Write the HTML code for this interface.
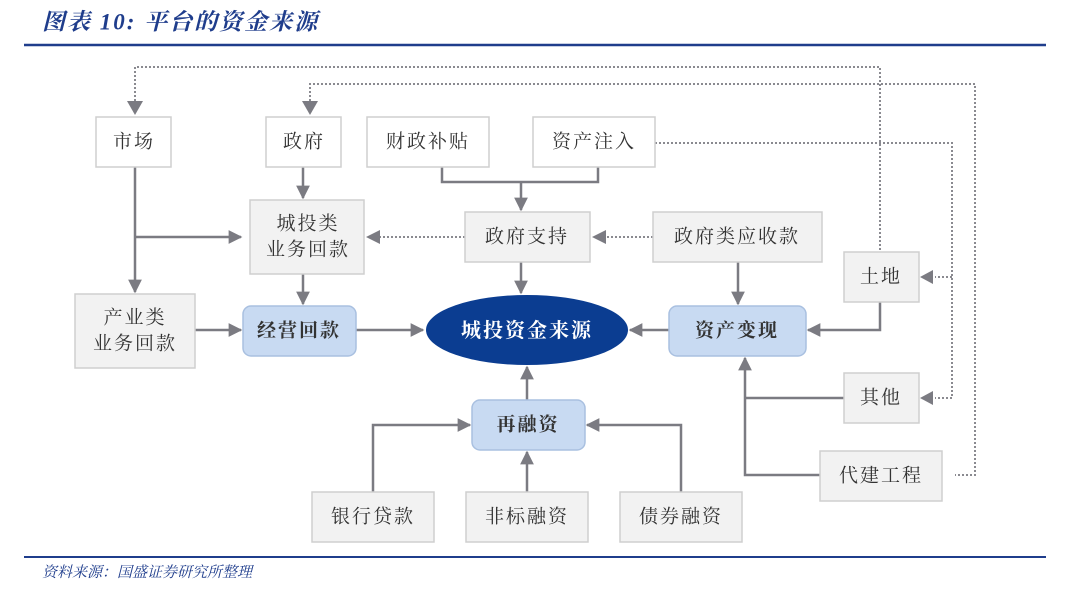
<!DOCTYPE html>
<html><head><meta charset="utf-8"><style>
body{margin:0;background:#fff;}
svg text{font-family:"Liberation Serif","Noto Serif CJK SC",serif;fill:#333;font-size:19px;text-anchor:middle;dominant-baseline:central;letter-spacing:2px}
</style></head><body>
<svg width="1080" height="596" viewBox="0 0 1080 596" xmlns="http://www.w3.org/2000/svg">
<defs>
<marker id="a" viewBox="0 0 10 10" refX="9" refY="5" markerWidth="5.5" markerHeight="5.5" orient="auto" markerUnits="strokeWidth"><path d="M0,0L10,5L0,10z" fill="#7b7b82"/></marker>
</defs>
<text x="42" y="22" style="font-size:23px;font-style:italic;font-weight:bold;fill:#1f3d8c;text-anchor:start;letter-spacing:2px">图表 10:  平台的资金来源</text>
<line x1="24" y1="45" x2="1046" y2="45" stroke="#1f3d8c" stroke-width="2.5"/>
<line x1="24" y1="557" x2="1046" y2="557" stroke="#1f3d8c" stroke-width="2"/>
<text x="42" y="573" style="font-size:15px;font-style:italic;fill:#1f3d8c;text-anchor:start;letter-spacing:0">资料来源：国盛证券研究所整理</text>

<g fill="none" stroke="#8a8a90" stroke-width="2" stroke-dasharray="2,2">
<path d="M135,101V67H880V252"/>
<path d="M310,101V84H975V475H955"/>
<path d="M655,143H952V398H935"/>
<path d="M952,277H935"/>
<path d="M465,237H380"/>
<path d="M653,237H606"/>
</g>
<g fill="none" stroke="#7b7b82" stroke-width="2.5" marker-end="url(#a)">
<path d="M135,167V292"/>
<path d="M135,237H241"/>
<path d="M303,167V198"/>
<path d="M303,274V304"/>
<path d="M442,167V182H598V167M521,182V210"/>
<path d="M521,262V293"/>
<path d="M738,262V304"/>
<path d="M880,302V330H808"/>
<path d="M669,330H630"/>
<path d="M356,330H423"/>
<path d="M195,330H241"/>
<path d="M527,400V367"/>
<path d="M527,492V452"/>
<path d="M373,492V425H470"/>
<path d="M681,492V425H587"/>
<path d="M820,475H745V358"/>
</g>
<path d="M844,398H745" fill="none" stroke="#7b7b82" stroke-width="2.5"/>
<g stroke="#cfcfcf" stroke-width="1.5">
<rect x="96" y="117" width="75" height="50" fill="#fff"/>
<rect x="266" y="117" width="75" height="50" fill="#fff"/>
<rect x="367" y="117" width="122" height="50" fill="#fff"/>
<rect x="533" y="117" width="122" height="50" fill="#fff"/>
<rect x="250" y="200" width="114" height="74" fill="#f2f2f2"/>
<rect x="465" y="212" width="125" height="50" fill="#f2f2f2"/>
<rect x="653" y="212" width="169" height="50" fill="#f2f2f2"/>
<rect x="844" y="252" width="75" height="50" fill="#f2f2f2"/>
<rect x="844" y="373" width="75" height="50" fill="#f2f2f2"/>
<rect x="820" y="451" width="122" height="50" fill="#f2f2f2"/>
<rect x="75" y="294" width="120" height="74" fill="#f2f2f2"/>
<rect x="312" y="492" width="122" height="50" fill="#f2f2f2"/>
<rect x="466" y="492" width="122" height="50" fill="#f2f2f2"/>
<rect x="620" y="492" width="122" height="50" fill="#f2f2f2"/>
</g>
<g fill="#7b7b82">
<path d="M127,101h16l-8,14z"/><path d="M302,101h16l-8,14z"/>
<path d="M933,270v14l-13,-7z"/><path d="M933,391v14l-13,-7z"/>
<path d="M380,230v14l-14,-7z"/><path d="M606,230v14l-14,-7z"/>
</g>
<g fill="#c8daf2" stroke="#a9c0e0" stroke-width="1.5">
<rect x="243" y="306" width="113" height="50" rx="8"/>
<rect x="669" y="306" width="137" height="50" rx="8"/>
<rect x="472" y="400" width="113" height="50" rx="8"/>
</g>
<ellipse cx="527" cy="330" rx="101" ry="35" fill="#0b3d91"/>
<text x="134" y="142">市场</text>
<text x="304" y="142">政府</text>
<text x="428" y="142">财政补贴</text>
<text x="594" y="142">资产注入</text>
<text x="308" y="224">城投类</text>
<text x="308" y="250">业务回款</text>
<text x="527" y="237">政府支持</text>
<text x="737" y="237">政府类应收款</text>
<text x="881" y="277">土地</text>
<text x="881" y="398">其他</text>
<text x="881" y="476">代建工程</text>
<text x="135" y="318">产业类</text>
<text x="135" y="344">业务回款</text>
<text x="299" y="331" style="font-weight:bold">经营回款</text>
<text x="737" y="331" style="font-weight:bold">资产变现</text>
<text x="528" y="425" style="font-weight:bold">再融资</text>
<text x="527" y="331" style="fill:#fff;font-weight:bold;font-size:20px">城投资金来源</text>
<text x="373" y="517">银行贷款</text>
<text x="527" y="517">非标融资</text>
<text x="681" y="517">债券融资</text>
</svg>
</body></html>
